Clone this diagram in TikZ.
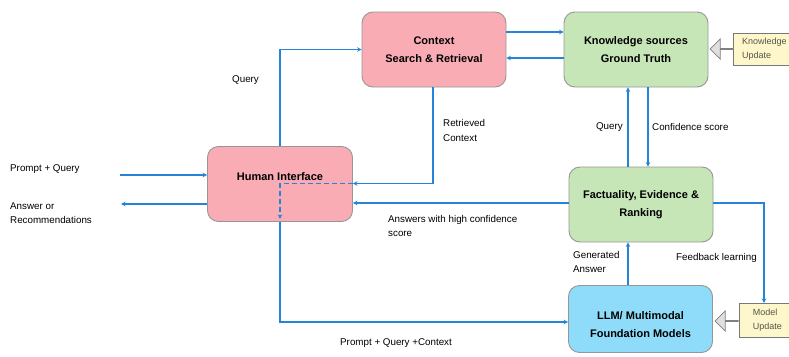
\documentclass[tikz,border=0pt]{standalone}
\usepackage{fontspec}
\setmainfont{Liberation Sans}
\usetikzlibrary{arrows.meta,shapes.arrows}
\definecolor{flowblue}{RGB}{38,132,216}
\definecolor{pinkfill}{RGB}{249,172,180}
\definecolor{greenfill}{RGB}{198,230,184}
\definecolor{bluefill}{RGB}{142,220,249}
\definecolor{creamfill}{RGB}{255,247,204}
\definecolor{boxborder}{RGB}{150,150,150}
\definecolor{notetext}{RGB}{85,85,70}
\tikzset{
  box/.style={draw=boxborder, line width=0.9pt, rounded corners=11pt, align=center,
    font=\fontsize{11}{18}\selectfont\bfseries, inner sep=0pt},
  pinkbox/.style={box, fill=pinkfill},
  greenbox/.style={box, fill=greenfill},
  bluebox/.style={box, fill=bluefill},
  notebox/.style={draw=boxborder!80!black, line width=0.8pt, fill=creamfill, align=left,
    anchor=north west, inner sep=3pt, font=\fontsize{9}{13.5}\selectfont, text=notetext},
  lbl/.style={align=left, inner sep=0pt, font=\fontsize{9.8}{14.5}\selectfont},
  arr/.style={draw=flowblue, line width=1.5pt, -{Stealth[length=4.5pt,width=4.5pt]}},
  grayarrow/.style={single arrow, draw=gray, fill=gray!25, line width=0.7pt,
    minimum height=23pt, single arrow head extend=6pt, minimum width=20pt,
    inner sep=0pt, shape border rotate=180},
}
\begin{document}
\begin{tikzpicture}[x=1pt,y=-1pt]
\useasboundingbox (0,0) rectangle (789,356);

% boxes
\node[pinkbox, minimum width=145pt, minimum height=75pt] (hi) at (280,184) {};
\node[font=\fontsize{11}{18}\selectfont\bfseries, inner sep=0pt] (hitext) at (280,177) {Human Interface};
\node[pinkbox, minimum width=144pt, minimum height=75pt] (ctx) at (434,49.5) {Context\\Search \& Retrieval};
\node[greenbox, minimum width=144pt, minimum height=75pt] (kn) at (636,49.5) {Knowledge sources\\Ground Truth};
\node[greenbox, minimum width=144pt, minimum height=75pt] (fe) at (641,204.5) {Factuality, Evidence \&\\Ranking};
\node[bluebox, minimum width=144pt, minimum height=67pt] (llm) at (640.5,319) {};
\node[font=\fontsize{11}{18}\selectfont\bfseries, align=center, inner sep=0pt] (llmtext) at (640.5,325) {LLM/ Multimodal\\Foundation Models};

% note boxes
\node[notebox, minimum width=62pt, minimum height=32pt] (ku) at (733,33) {Knowledge\\Update};
\node[notebox, minimum width=56pt, minimum height=34pt] (mu) at (739,303) {Model\\Update};
\node[grayarrow] (kua) at (722,49) {};
\node[grayarrow] (mua) at (727,321) {};

% free ends
\coordinate (pq) at (120,175);
\coordinate (ans) at (121,204);

% connectors
\draw[arr] (pq) -- (pq -| hi.west);
\draw[arr] (ans -| hi.west) -- (ans);
\draw[arr] (hi.north) |- (ctx.west);
\draw[arr] (ctx.east |- 0,32) -- (kn.west |- 0,32);
\draw[arr] (kn.west |- 0,58) -- (ctx.east |- 0,58);
\draw[arr] (ctx.south -| 433,0) |- (hi.east |- 0,183.5);
\draw[flowblue, line width=1.5pt, dash pattern=on 5pt off 3pt, -{Stealth[length=4.5pt,width=4.5pt]}, shorten >=3pt]
  (hi.east |- 0,183.5) -| (hi.south);
\draw[arr] (hi.south) |- (llm.west |- 0,322);
\draw[arr] (fe.west |- 0,203) -- (hi.east |- 0,203);
\draw[arr] (fe.north -| 628,0) -- (kn.south -| 628,0);
\draw[arr] (kn.south -| 648,0) -- (fe.north -| 648,0);
\draw[arr] (llm.north -| 628,0) -- (fe.south -| 628,0);
\draw[arr] (fe.east |- 0,203) -| (mu.north -| 764,0);

% labels
\node[lbl, anchor=west] (l1) at (10,169) {Prompt + Query};
\node[lbl, anchor=west] (l2) at (10,213) {Answer or\\Recommendations};
\node[lbl, anchor=west] (l3) at (232,80) {Query};
\node[lbl, anchor=west] (l4) at (443,130.5) {Retrieved\\Context};
\node[lbl, anchor=west] (l5) at (388,226) {Answers with high confidence\\score};
\node[lbl, anchor=east] (l6) at (623,127) {Query};
\node[lbl, anchor=west] (l7) at (652,127) {Confidence score};
\node[lbl, anchor=west] (l8) at (573,262) {Generated\\Answer};
\node[lbl, anchor=west] (l9) at (676,258) {Feedback learning};
\node[lbl, anchor=west] (l10) at (340,343) {Prompt + Query +Context};
\end{tikzpicture}
\end{document}
